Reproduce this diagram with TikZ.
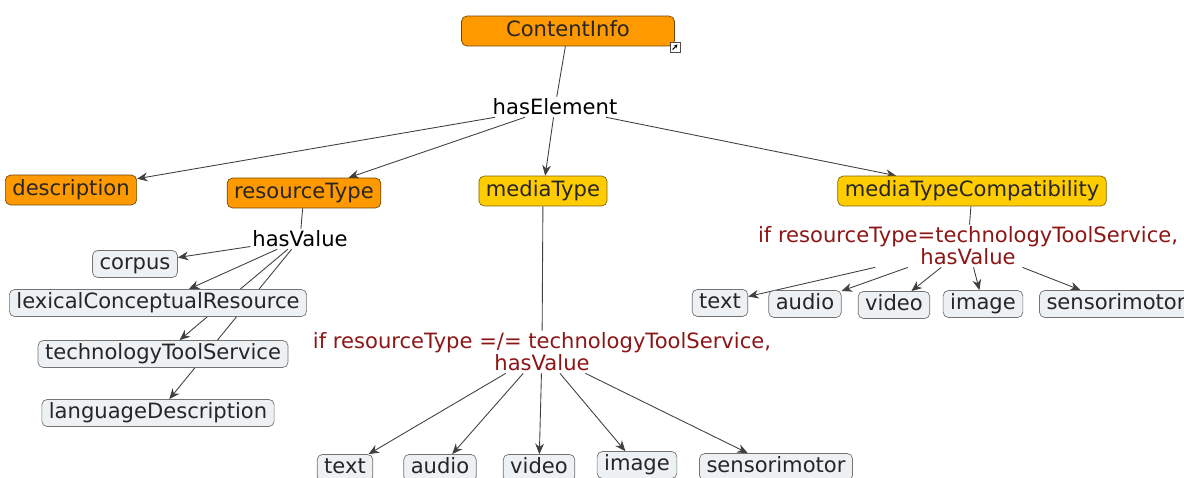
\documentclass[tikz,border=0pt]{standalone}
\usepackage{fontspec}
\setmainfont{DejaVu Sans}
\usetikzlibrary{arrows.meta,backgrounds}
\definecolor{cmorange}{RGB}{255,153,0}
\definecolor{cmyellow}{RGB}{255,204,0}
\definecolor{cmleaf}{RGB}{237,241,243}
\definecolor{cmred}{RGB}{140,22,22}
\begin{document}
\begin{tikzpicture}[x=0.02cm, y=-0.02cm,
		font=\fontsize{12}{14}\selectfont,
		box/.style={draw, rounded corners=3pt, inner xsep=4pt, inner ysep=2.5pt,
			text height=9pt, text depth=3pt, text=black!85},
		topbox/.style={box, fill=cmorange, draw=cmorange!45!black},
		midbox/.style={box, fill=cmyellow, draw=cmyellow!50!black},
		leaf/.style={box, fill=cmleaf, draw=black!55, inner ysep=1.7pt},
		link/.style={inner sep=1pt, align=center},
		cond/.style={link, text=cmred, font=\fontsize{12}{11}\selectfont},
		line/.style={line width=0.5pt, draw=black!75},
		arr/.style={line, -{Stealth[length=6pt,width=5pt]}}
		]
	\useasboundingbox (0,0) rectangle (1184,477);
	\node [topbox, minimum width=4.26cm] (ci) at (568,31) {ContentInfo};
	\node [draw=black!70, fill=white, minimum size=0.2cm, inner sep=0pt] (lnk) at (675,47) {};
	\draw [-{Stealth[length=2pt,width=2pt]}, line width=0.6pt] ([shift={(-2.5,2.5)}]lnk.center) -- ([shift={(2.5,-2.5)}]lnk.center);
	\node [link] (he) at (555,107) {hasElement};
	\node [topbox] (desc) at (71,190) {description};
	\node [topbox] (rt) at (304,193) {resourceType};
	\node [midbox] (mt) at (543,191) {mediaType};
	\node [midbox] (mtc) at (972,191) {mediaTypeCompatibility};
	\node [link] (hv) at (300,239) {hasValue};
	\node [leaf] (corpus) at (135,264) {corpus};
	\node [leaf] (lcr) at (158,303) {lexicalConceptualResource};
	\node [leaf] (tts) at (163,354) {technologyToolService};
	\node [leaf] (ld) at (158,413) {languageDescription};
	\node [cond] (c1) at (542,352) {if resourceType =/= technologyToolService,\\hasValue};
	\node [leaf] (b1) at (345,468) {text};
	\node [leaf] (b2) at (440,468) {audio};
	\node [leaf] (b3) at (539,468) {video};
	\node [leaf] (b4) at (637,465) {image};
	\node [leaf] (b5) at (776,467) {sensorimotor};
	\node [cond] (c2) at (968,246) {if resourceType=technologyToolService,\\hasValue};
	\node [leaf] (r1) at (720,303) {text};
	\node [leaf] (r2) at (805,304) {audio};
	\node [leaf] (r3) at (894,305) {video};
	\node [leaf] (r4) at (983,304) {image};
	\node [leaf] (r5) at (1116,304) {sensorimotor};
	\begin{pgfonlayer}{background}
		\draw [line] (ci) -- (he);
		\draw [arr] (he) -- (desc);
		\draw [arr] (he) -- (rt);
		\draw [arr] (he) -- (mt);
		\draw [arr] (he) -- (mtc);
		\draw [line] (rt) -- (hv);
		\draw [arr] (hv) -- (corpus);
		\draw [arr] (hv) -- (lcr);
		\draw [arr] (hv) -- (tts);
		\draw [arr] (hv) -- (ld);
		\draw [line] (mt) -- (c1);
		\foreach \n in {b1,b2,b3,b4,b5}
			\draw [arr] (c1) -- (\n);
		\draw [line] (mtc) -- (c2);
		\foreach \n in {r1,r2,r3,r4,r5}
			\draw [arr] (c2) -- (\n);
	\end{pgfonlayer}
\end{tikzpicture}
\end{document}
